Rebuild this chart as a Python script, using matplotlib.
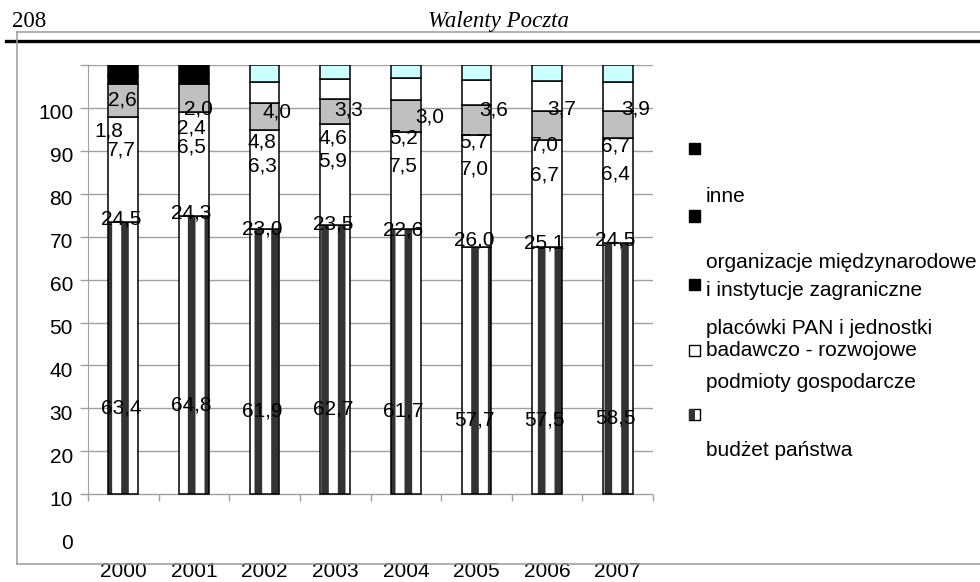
import numpy as np
import matplotlib
matplotlib.use('Agg')
import matplotlib.pyplot as plt
from matplotlib.patches import Rectangle
from matplotlib.lines import Line2D
from matplotlib.transforms import ScaledTranslation

# data (udzial %)
years = ['2000', '2001', '2002', '2003', '2004', '2005', '2006', '2007']
budzet = [63.4, 64.8, 61.9, 62.7, 61.7, 57.7, 57.5, 58.5]
podmioty = [24.5, 24.3, 23.0, 23.5, 22.6, 26.0, 25.1, 24.5]
placowki = [7.7, 6.5, 6.3, 5.9, 7.5, 7.0, 6.7, 6.4]
organizacje = [1.8, 2.4, 4.8, 4.6, 5.2, 5.7, 7.0, 6.7]
inne = [2.6, 2.0, 4.0, 3.3, 3.0, 3.6, 3.7, 3.9]
y_ticks = list(range(0, 111, 10))
y_tick_labels = [str(v) for v in range(0, 101, 10)] + ['']

plt.rcParams['font.family'] = ['Liberation Sans', 'DejaVu Sans']
plt.rcParams['hatch.linewidth'] = 5.5

W, H = 980, 582
fig = plt.figure(figsize=(W / 100, H / 100), dpi=100)


def fx(px):
    return px / W


def fy(py):
    return 1 - py / H


ax = fig.add_axes([fx(88), fy(537.2), fx(653) - fx(88), fy(65) - fy(537.2)])
ax.set_xlim(-0.5, 7.5)
ax.set_ylim(0, 110)

grid_col = '#a0a0a0'
bar_base = 10          # bars in the scan are shifted up by 10 units
bw = 0.42
x = np.arange(len(years))

series = [budzet, podmioty, placowki, organizacje, inne]
org_colors = ['#000000', '#000000'] + ['#ffffff'] * 6
inne_colors = ['#000000', '#000000'] + ['#ccffff'] * 6
seg_colors = [None, ['#ffffff'] * 8, ['#c0c0c0'] * 8, org_colors, inne_colors]

bottom = np.full(len(years), float(bar_base))
for k, vals in enumerate(series):
    vals = np.array(vals)
    if k == 0:
        ax.bar(x, vals, bw, bottom=bottom, color='white', edgecolor='#333333',
               hatch='|', linewidth=0, zorder=2)
        ax.bar(x, vals, bw, bottom=bottom, fill=False, edgecolor='black',
               linewidth=1.1, zorder=3)
    else:
        ax.bar(x, vals, bw, bottom=bottom, color=seg_colors[k], edgecolor='black',
               linewidth=1.1, zorder=3)
    bottom = bottom + vals

# data labels (they sit 10 units lower than the bars, as in the scan)
label_shift = {(4, 0): (-0.6, -15.8), (4, 1): (4.4, -5.5), (4, 2): (12.3, -6.5),
               (4, 3): (13.3, -6.7), (4, 4): (23.7, 0.7), (4, 5): (17.1, -7.3),
               (4, 6): (15.0, -8.5), (4, 7): (17.7, -9.0), (3, 0): (-14.0, 6.1)}
cum = np.zeros(len(years))
for k, vals in enumerate(series):
    vals = np.array(vals)
    centers = cum + vals / 2
    for i, v in enumerate(vals):
        dx, dy = label_shift.get((k, i), (-2.5, 4.5))
        ax.annotate(f'{v:.1f}'.replace('.', ','), (x[i], centers[i]),
                    xytext=(dx * 0.72, -(dy + 2) * 0.72), textcoords='offset points',
                    ha='center', va='center', fontsize=15, zorder=5)
    cum = cum + vals

# axes styling
for s in ['top', 'right', 'bottom']:
    ax.spines[s].set_visible(False)
ax.spines['left'].set_color(grid_col)
ax.spines['left'].set_bounds(10, 110)
ax.set_yticks(y_ticks)
ax.set_yticklabels(y_tick_labels)
ax.tick_params(axis='y', length=5.8, width=1, color=grid_col, pad=5, labelsize=15)
ax.set_xticks(x)
ax.set_xticklabels(years)
ax.tick_params(axis='x', length=0, pad=17.5, labelsize=15)
ax.yaxis.grid(True, color=grid_col, linewidth=1)
ax.set_axisbelow(True)
yt = ax.yaxis.get_major_ticks()
yt[0].tick1line.set_visible(False)
yt[0].gridline.set_visible(False)
shift = ScaledTranslation(0, -4 / 100, fig.dpi_scale_trans)
for lbl in ax.get_yticklabels():
    lbl.set_transform(lbl.get_transform() + shift)
ax.vlines(np.arange(-0.5, 8, 1), bar_base - 1.63, bar_base, color=grid_col,
          linewidth=1, clip_on=False)

# legend (as laid out in the scan)
sq = 11
legend_boxes = [(149, '#000000', None), (216, '#000000', None),
                (284, '#000000', None), (350, '#ffffff', None),
                (414, '#ffffff', '#333333')]
for cy, fc, half in legend_boxes:
    fig.add_artist(Rectangle((fx(689), fy(cy + sq / 2)), sq / W, sq / H,
                             transform=fig.transFigure, facecolor=fc,
                             edgecolor='black', linewidth=1))
    if half:
        fig.add_artist(Rectangle((fx(689), fy(cy + sq / 2)), sq / 2 / W, sq / H,
                                 transform=fig.transFigure, facecolor=half,
                                 edgecolor='none'))
legend_texts = [(197, 'inne'), (262, 'organizacje międzynarodowe'),
                (290, 'i instytucje zagraniczne'), (328, 'placówki PAN i jednostki'),
                (350, 'badawczo - rozwojowe'), (383, 'podmioty gospodarcze'),
                (450, 'budżet państwa')]
for ty, t in legend_texts:
    fig.text(fx(706), fy(ty), t, fontsize=15, ha='left', va='center')

# page header
fig.text(fx(12), fy(21.5), '208', family=['Liberation Serif', 'DejaVu Serif'],
         fontsize=16.5, ha='left', va='center')
fig.text(fx(498), fy(21.5), 'Walenty Poczta', family=['Liberation Serif', 'DejaVu Serif'],
         style='italic', fontsize=16.5, ha='center', va='center')
fig.add_artist(Line2D([fx(6), 1], [fy(41), fy(41)], transform=fig.transFigure,
                      color='black', linewidth=2.4))
frame = '#9a9a9a'
fig.add_artist(Line2D([fx(16.7), 1], [fy(31.7), fy(31.7)], transform=fig.transFigure,
                      color=frame, linewidth=1.1))
fig.add_artist(Line2D([fx(16.7), fx(16.7)], [fy(31.7), fy(564)], transform=fig.transFigure,
                      color=frame, linewidth=1.1))
fig.add_artist(Line2D([fx(16.7), 1], [fy(564), fy(564)], transform=fig.transFigure,
                      color=frame, linewidth=1.1))

fig.savefig('out.png', dpi=100)
